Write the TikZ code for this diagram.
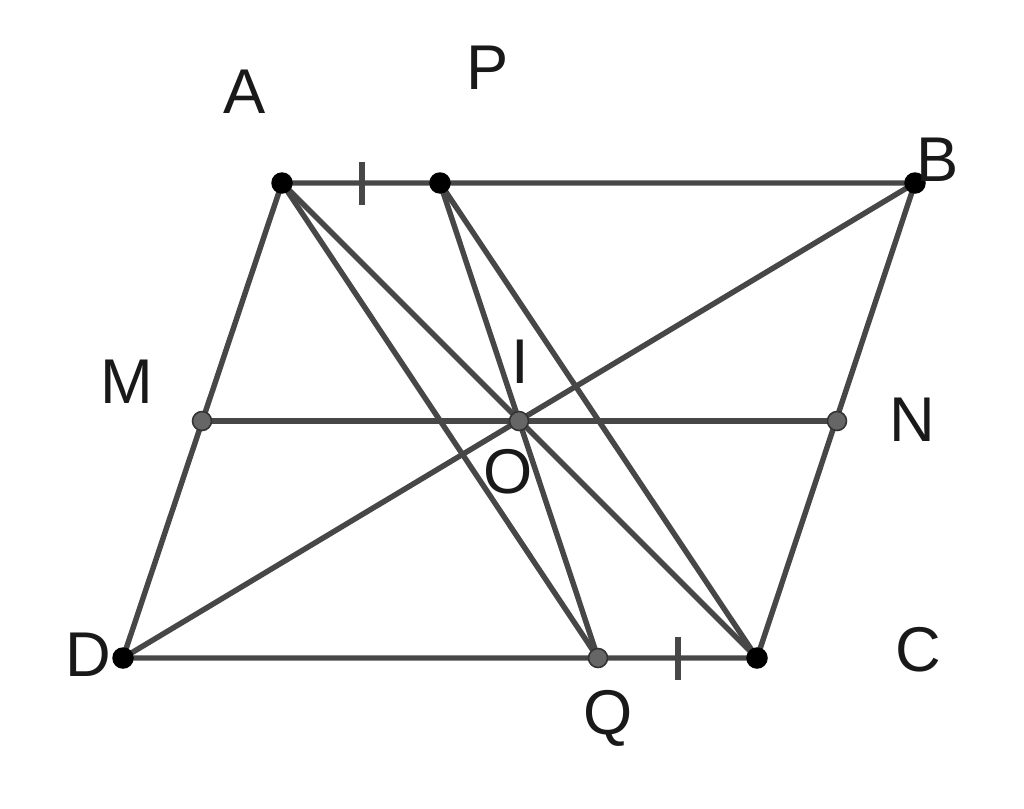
\documentclass[tikz,border=0pt]{standalone}
\usepackage{fontspec}
\setmainfont{Liberation Sans}
\begin{document}
\begin{tikzpicture}[x=0.02cm,y=-0.02cm,
  seg/.style={draw=black!72,line width=3.1pt},
  bigdot/.style={circle,fill=black,inner sep=0pt,minimum size=0.43cm},
  greydot/.style={circle,fill=black!60,draw=black!80,line width=0.9pt,inner sep=0pt,minimum size=0.38cm},
  lbl/.style={font=\fontsize{36}{40}\selectfont,text=black!90,inner sep=0pt}]
\useasboundingbox (0,0) rectangle (1024,808);
\coordinate (A) at (282,183);
\coordinate (P) at (440,183);
\coordinate (B) at (915,183);
\coordinate (D) at (123,658);
\coordinate (Q) at (598,658);
\coordinate (C) at (757,658);
\coordinate (M) at (202,421);
\coordinate (N) at (837,421);
\coordinate (O) at (519,421);
\coordinate (t1a) at (362,162);
\coordinate (t1b) at (362,205);
\coordinate (t2a) at (678,637);
\coordinate (t2b) at (678,680);
\path[seg] (A) -- (B) -- (C) -- (D) -- cycle;
\path[seg] (M) -- (N);
\path[seg] (B) -- (D);
\path[seg] (A) -- (C);
\path[seg] (A) -- (Q);
\path[seg] (P) -- (Q);
\path[seg] (P) -- (C);
\path[seg] (t1a) -- (t1b);
\path[seg] (t2a) -- (t2b);
\node[bigdot] (dA) at (A) {};
\node[bigdot] (dP) at (P) {};
\node[bigdot] (dB) at (B) {};
\node[bigdot] (dD) at (D) {};
\node[bigdot] (dC) at (C) {};
\node[greydot] (dM) at (M) {};
\node[greydot] (dN) at (N) {};
\node[greydot] (dO) at (O) {};
\node[greydot] (dQ) at (Q) {};
\node[lbl] (lA) at (245,92) {A};
\node[lbl] (lP) at (488,68) {P};
\node[lbl] (lB) at (938,160) {B};
\node[lbl] (lM) at (127,382) {M};
\node[lbl] (lN) at (912,420) {N};
\node[lbl] (lI) at (520,362) {I};
\node[lbl] (lO) at (508,472) {O};
\node[lbl] (lD) at (88,655) {D};
\node[lbl] (lC) at (918,650) {C};
\node[lbl] (lQ) at (608,718) {Q};
\end{tikzpicture}
\end{document}
